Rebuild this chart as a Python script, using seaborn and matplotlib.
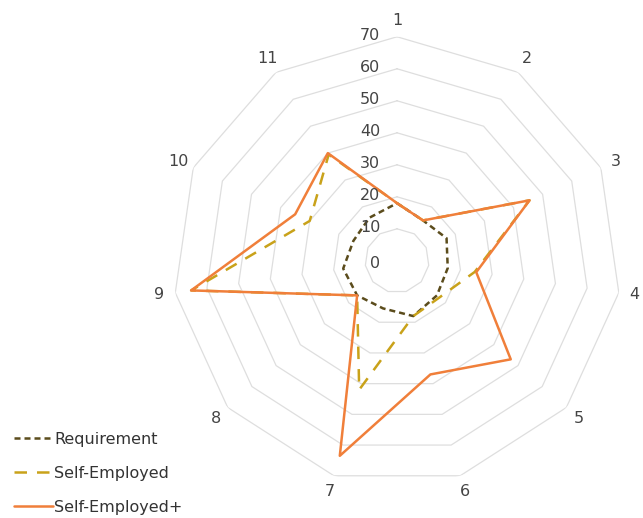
import matplotlib
matplotlib.use("Agg")
import matplotlib.pyplot as plt
import numpy as np
import pandas as pd
import seaborn as sns

axes_labels = ["1", "2", "3", "4", "5", "6", "7", "8", "9", "10", "11"]
requirement = [18, 15, 17, 16, 16.5, 18, 15.5, 16.5, 17, 15, 16]
self_employed = [18, 15, 45.5, 24.5, 17.5, 18, 42, 16.5, 65, 30, 39.5]
self_employed_plus = [18, 15, 45.5, 25, 47, 37, 63.5, 16.5, 65, 35, 40]
ring_levels = [0, 10, 20, 30, 40, 50, 60, 70]

series = {
    "Requirement": requirement,
    "Self-Employed": self_employed,
    "Self-Employed+": self_employed_plus,
}
colors = {"Requirement": "#5b4c1c", "Self-Employed": "#c9a21a", "Self-Employed+": "#f07f3a"}
dash_map = {"Requirement": (2.4, 1.6), "Self-Employed": (5, 4), "Self-Employed+": ""}

n = len(axes_labels)
theta = np.linspace(0, 2 * np.pi, n, endpoint=False)
theta_closed = np.append(theta, theta[0])

rows = []
for name, vals in series.items():
    closed = list(vals) + [vals[0]]
    for t, v in zip(theta_closed, closed):
        rows.append({"theta": t, "value": v, "series": name})
df = pd.DataFrame(rows)

sns.set_theme(style="white")
plt.rcParams["font.family"] = ["DejaVu Sans"]

fig = plt.figure(figsize=(6.43, 5.18), dpi=100)
ax = fig.add_axes([0.269, 0.064, 0.697, 0.865], projection="polar")
ax.set_theta_zero_location("N")
ax.set_theta_direction(-1)
ax.set_ylim(0, 70)
ax.grid(False)
ax.spines["polar"].set_visible(False)
ax.set_xticks([])
ax.set_yticks([])

# polygon grid
for lvl in ring_levels[1:]:
    ax.plot(theta_closed, [lvl] * (n + 1), color="#dedede", lw=0.9, zorder=1)

sns.lineplot(
    data=df, x="theta", y="value", hue="series", style="series",
    palette=colors, sort=False, estimator=None, units="series",
    dashes=dash_map, linewidth=1.8, ax=ax, legend=False, zorder=3,
)
ax.set_xlabel("")
ax.set_ylabel("")

# radial labels along the first spoke
for lvl in ring_levels:
    ax.annotate(str(lvl), xy=(0, lvl), xytext=(-12, -2 if lvl == 0 else 1),
                textcoords="offset points", ha="right", va="center",
                fontsize=11.5, color="#444444", zorder=4)

for t, lab in zip(theta, axes_labels):
    ax.text(t, 75, lab, ha="center", va="center", fontsize=11.5, color="#444444")

handles = [
    plt.Line2D([], [], color=colors[k], lw=1.8,
               linestyle=(0, dash_map[k]) if dash_map[k] else "-")
    for k in series
]
fig.legend(handles, list(series.keys()), loc="lower left", bbox_to_anchor=(0.0, -0.022),
           frameon=False, fontsize=11.5, labelspacing=1.2, handlelength=2.4,
           handletextpad=0.1, labelcolor="#333333")

fig.savefig("out.png", dpi=100)
